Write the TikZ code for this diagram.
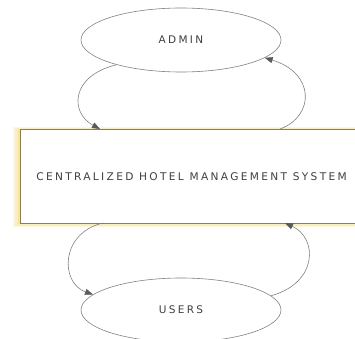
\documentclass[tikz,border=0pt]{standalone}
\usepackage{fontspec}
\setmainfont{DejaVu Sans}
\newfontfamily\spacedfont[LetterSpace=22]{DejaVu Sans}
\usetikzlibrary{arrows.meta,shapes.geometric}
\definecolor{edgegray}{RGB}{130,130,130}
\definecolor{tipgray}{RGB}{90,90,90}
\definecolor{boxline}{RGB}{140,125,85}
\definecolor{glow}{RGB}{245,225,140}
\tikzset{
  actor/.style={ellipse, draw=edgegray, line width=0.6pt, fill=white,
    minimum width=200pt, minimum height=64pt, inner sep=0pt,
    font=\spacedfont\fontsize{10.5}{12}\selectfont, text=black!75},
  flow/.style={draw=edgegray, line width=0.6pt,
    -{Triangle[length=8pt,width=6pt,fill=tipgray,color=tipgray]}},
  sysbox/.style={rectangle, draw=boxline, line width=0.8pt, fill=white,
    minimum width=362pt, minimum height=94pt, inner sep=0pt},
}
\begin{document}
\begin{tikzpicture}[x=1pt,y=1pt]
\useasboundingbox (0,0) rectangle (355,338);
\fill[white] (0,0) rectangle (355,338);
% glow of the system box
\fill[glow!30] (13,111) rectangle (380,211);
\fill[glow!55] (15,112.5) rectangle (380,210);
\fill[glow!85] (17.5,114) rectangle (380,209.5);
\node[sysbox, anchor=north west] (sys) at (20,209) {};
\node[font=\spacedfont\fontsize{10.6}{12}\selectfont, text=black!75] (systext) at (191.5,161) {CENTRALIZED HOTEL MANAGEMENT SYSTEM};
\node[actor] (admin) at (181,298) {ADMIN};
\node[actor] (users) at (181,28) {USERS};
% connection points on the box
\coordinate (s1) at (100,209);
\coordinate (s2) at (280,209);
\coordinate (s3) at (103,115);
\coordinate (s4) at (285,115);
\draw[flow] (admin.201) .. controls (70,262) and (70,225) .. (s1);
\draw[flow] (s2) .. controls (315,222) and (315,265) .. (admin.348);
\draw[flow] (s3) .. controls (60,105) and (60,55) .. (users.170);
\draw[flow] (users.9) .. controls (318,55) and (318,100) .. (s4);
\end{tikzpicture}
\end{document}
